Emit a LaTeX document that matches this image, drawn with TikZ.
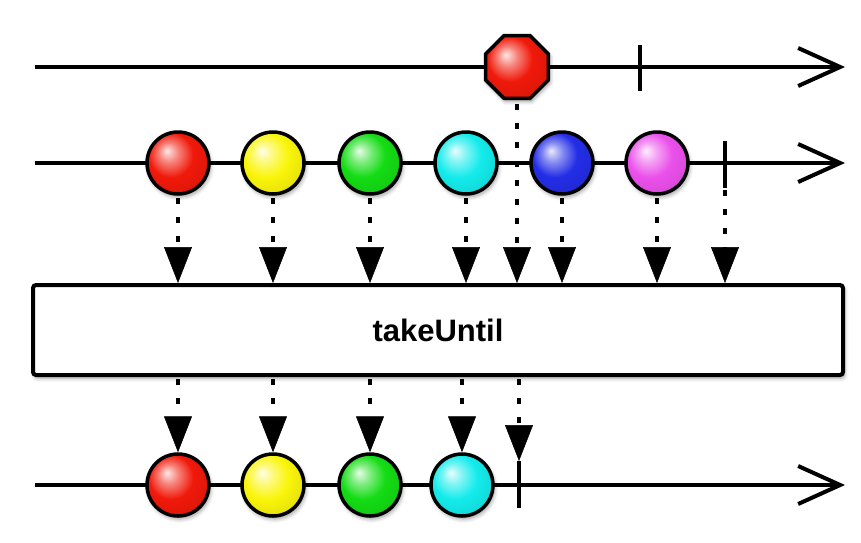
\documentclass[tikz,border=0pt]{standalone}
\usepackage{fontspec}
\setmainfont{Liberation Sans}
\usetikzlibrary{arrows.meta,shapes.geometric,shadows.blur}
\definecolor{ballred}{RGB}{240,25,10}
\definecolor{ballyellow}{RGB}{250,245,10}
\definecolor{ballgreen}{RGB}{20,220,20}
\definecolor{ballcyan}{RGB}{20,235,235}
\definecolor{ballblue}{RGB}{35,45,230}
\definecolor{ballviolet}{RGB}{235,80,235}
\colorlet{marblecol}{red}
\pgfdeclareradialshading[marblecol]{glossy}{\pgfqpoint{-9bp}{10bp}}{%
  color(0bp)=(marblecol!10!white); color(8bp)=(marblecol!55!white);
  color(18bp)=(marblecol); color(30bp)=(marblecol!92!black);
  color(50bp)=(marblecol!72!black)}
\begin{document}
\begin{tikzpicture}[x=1pt,y=-1pt,
  axis/.style={line width=3.5pt,-{Straight Barb[length=42pt,width=38pt,line width=4pt]}},
  tickmark/.style={line width=4pt},
  softshadow/.style={blur shadow={shadow xshift=1.5pt,shadow yshift=-3pt,shadow blur radius=4pt,shadow opacity=40}},
  gloss/.style={/utils/exec={\colorlet{marblecol}{#1}},shading=glossy},
  marble/.style={circle,draw,line width=3.5pt,minimum size=62pt,inner sep=0pt,gloss=#1,softshadow},
  dotarrow/.style={line width=4pt,dash pattern=on 6pt off 13pt,-{Triangle[length=36pt,width=28pt,line width=0.5pt]}},
  opbox/.style={draw,line width=4pt,rounded corners=3pt,fill=white,minimum width=810pt,minimum height=90pt,inner sep=0pt,softshadow,font=\bfseries\fontsize{31}{36}\selectfont}
]
\useasboundingbox (0,0) rectangle (861,542);

% axes
\coordinate (s1) at (35,67);  \coordinate (e1) at (845,67);
\coordinate (s2) at (35,163); \coordinate (e2) at (845,163);
\coordinate (s3) at (35,485); \coordinate (e3) at (845,485);
\draw[axis] (s1) -- (e1);
\draw[axis] (s2) -- (e2);
\draw[axis] (s3) -- (e3);

% ticks
\coordinate (t1a) at (640,45); \coordinate (t1b) at (640,91);
\coordinate (t2a) at (725,141); \coordinate (t2b) at (725,188);
\coordinate (t3a) at (519,461); \coordinate (t3b) at (519,508);
\draw[tickmark] (t1a) -- (t1b);
\draw[tickmark] (t2a) -- (t2b);
\draw[tickmark] (t3a) -- (t3b);

% notifier
\node[regular polygon,regular polygon sides=8,minimum size=68pt,inner sep=0pt,draw,line width=3.5pt,gloss=ballred,softshadow] (stop) at (517,67) {};

% source marbles
\node[marble=ballred]    (a1) at (178,163) {};
\node[marble=ballyellow] (a2) at (273,163) {};
\node[marble=ballgreen]  (a3) at (370,163) {};
\node[marble=ballcyan]   (a4) at (466,163) {};
\node[marble=ballblue]   (a5) at (562,163) {};
\node[marble=ballviolet] (a6) at (657,163) {};

% operator box
\node[opbox] (box) at (438,330) {takeUntil};

% result marbles
\node[marble=ballred]    (c1) at (178,485) {};
\node[marble=ballyellow] (c2) at (273,485) {};
\node[marble=ballgreen]  (c3) at (370,485) {};
\node[marble=ballcyan]   (c4) at (462,485) {};

% arrows into box
\foreach \n in {a1,a2,a3,a4,a5,a6}
  \draw[dotarrow] ([yshift=-2pt]\n.south) -- (\n.south |- box.north);
\draw[dotarrow] ([yshift=-4pt]stop.south) -- (stop.south |- box.north);
\draw[dotarrow] ([yshift=-2pt]t2b) -- (t2b |- box.north);

% arrows out of box
\foreach \n in {c1,c2,c3,c4}
  \draw[dotarrow] ([yshift=-2pt]box.south -| \n) -- (\n.north);
\draw[dotarrow] ([yshift=-2pt]box.south -| t3a) -- (t3a);
\end{tikzpicture}
\end{document}
